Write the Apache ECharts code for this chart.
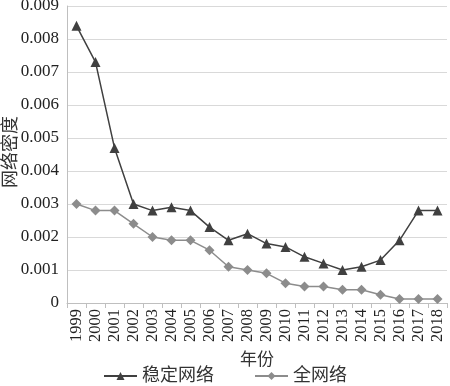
<!DOCTYPE html>
<html><head><meta charset="utf-8">
<script src="https://cdn.jsdelivr.net/npm/echarts@6/dist/echarts.min.js"></script>
<style>html,body{margin:0;padding:0;background:#fff}#c{width:450px;height:386px}</style>
</head><body><div id="c"></div>
<script>
const years = ['1999','2000','2001','2002','2003','2004','2005','2006','2007','2008','2009','2010','2011','2012','2013','2014','2015','2016','2017','2018'];
const stableNet = [0.0084,0.0073,0.0047,0.0030,0.0028,0.0029,0.0028,0.0023,0.0019,0.0021,0.0018,0.0017,0.0014,0.0012,0.0010,0.0011,0.0013,0.0019,0.0028,0.0028];
const fullNet = [0.0030,0.0028,0.0028,0.0024,0.0020,0.0019,0.0019,0.0016,0.0011,0.0010,0.0009,0.0006,0.0005,0.0005,0.0004,0.0004,0.00025,0.00012,0.00012,0.00012];
const yTicks = ['0','0.001','0.002','0.003','0.004','0.005','0.006','0.007','0.008','0.009'];
const yName = '网络密度';
const FF = '"Liberation Serif","Times New Roman","Noto Sans CJK SC",serif';
const chart = echarts.init(document.getElementById('c'));
chart.setOption({
  animation:false,
  textStyle:{fontFamily:FF},
  grid:{left:67,right:3,top:6,bottom:83,containLabel:false,outerBoundsMode:'none'},
  graphic:[{type:'text',x:11,y:152,rotation:Math.PI/2,
    style:{text:yName,fontFamily:FF,fontSize:18,fill:'#333',align:'center',verticalAlign:'middle'}}],
  legend:{top:367,left:'center',itemWidth:33,itemHeight:10,itemGap:40,padding:0,
    textStyle:{fontFamily:FF,fontSize:18,color:'#333'},
    data:['稳定网络','全网络']},
  xAxis:{type:'category',data:years,boundaryGap:true,
    name:'年份',nameLocation:'middle',nameGap:49,
    nameTextStyle:{fontFamily:FF,fontSize:17,color:'#333'},
    axisLine:{lineStyle:{color:'#bfbfbf',width:1}},
    axisTick:{show:true,alignWithLabel:false,length:5,lineStyle:{color:'#bfbfbf'}},
    axisLabel:{rotate:90,fontSize:16.5,color:'#222',fontFamily:FF,margin:6,interval:0}},
  yAxis:{type:'value',min:0,max:0.009,interval:0.001,
    axisLine:{show:true,lineStyle:{color:'#bfbfbf'}},
    axisTick:{show:false},
    splitLine:{lineStyle:{color:'#d9d9d9',width:1}},
    axisLabel:{fontSize:17,color:'#222',fontFamily:FF,margin:8,
      formatter:function(v){const i=Math.round(v/0.001);return yTicks[i]!==undefined?yTicks[i]:v;}}},
  series:[
    {name:'稳定网络',type:'line',data:stableNet,symbol:'triangle',symbolSize:10,
      lineStyle:{color:'#404040',width:1.5},itemStyle:{color:'#404040'}},
    {name:'全网络',type:'line',data:fullNet,symbol:'diamond',symbolSize:10,
      lineStyle:{color:'#8c8c8c',width:1.5},itemStyle:{color:'#8c8c8c'}}
  ]
});
</script></body></html>
